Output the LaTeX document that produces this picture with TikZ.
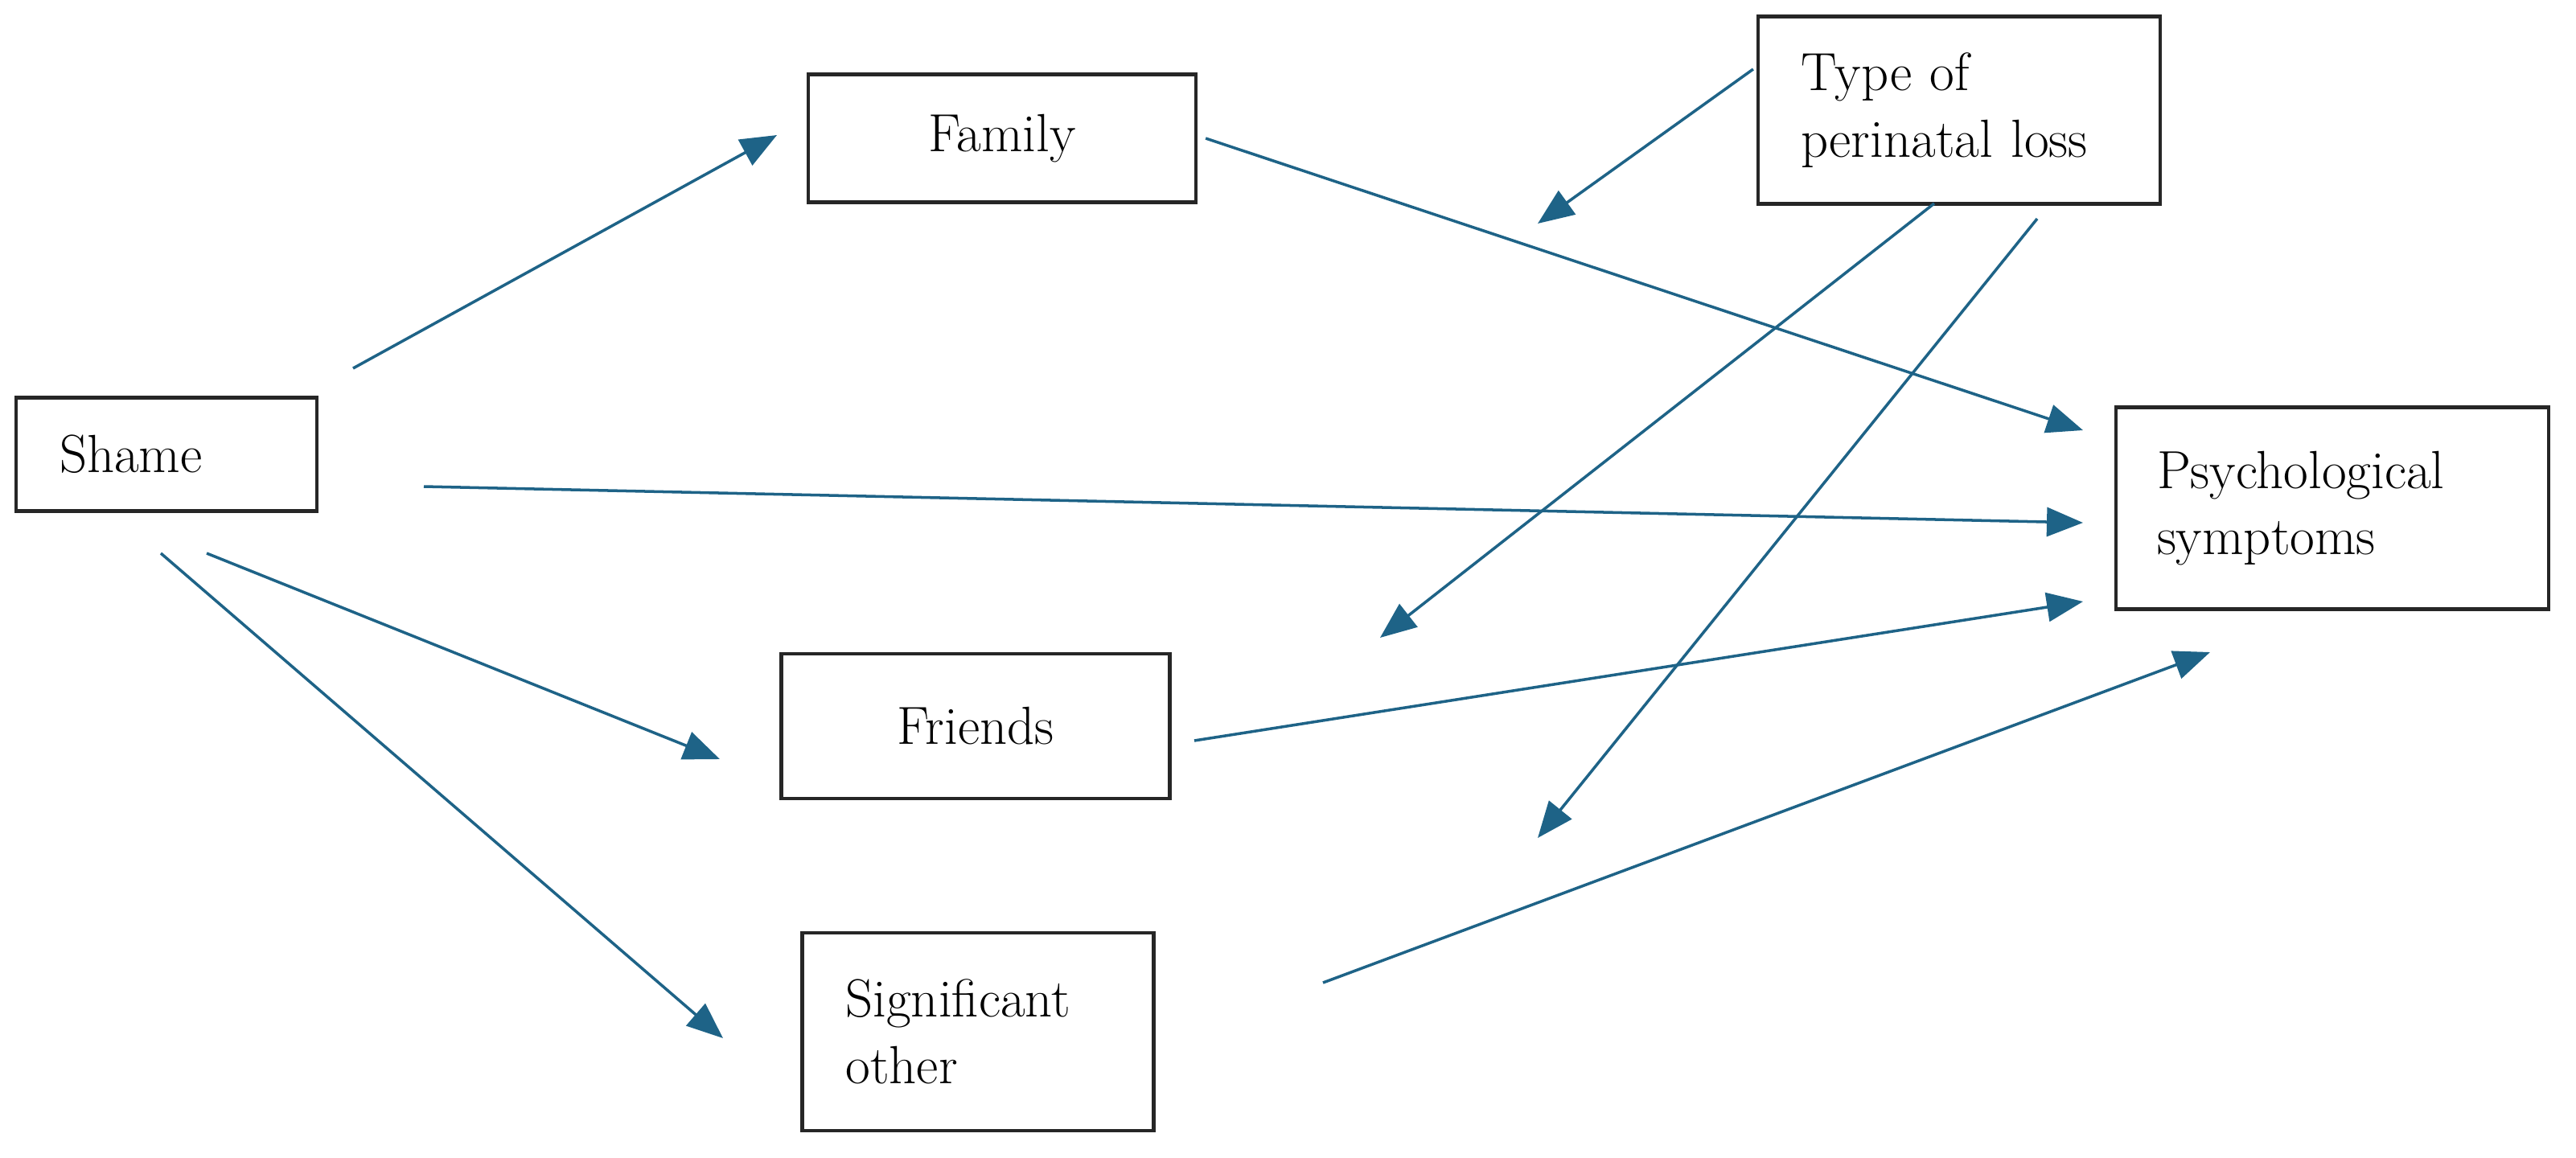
\documentclass[tikz,border=0pt]{standalone}
\usepackage{tikz}
\usetikzlibrary{arrows.meta, positioning}
\definecolor{linkblue}{RGB}{30,99,135}

\begin{document}
\begin{tikzpicture}[
  every node/.style={font=\fontsize{19}{23.5}\selectfont},
  varbox/.style={draw=black!85, line width=1.2pt, inner ysep=0pt},
  leftbox/.style={varbox, align=left, inner xsep=0.54cm},
  midbox/.style={varbox, align=center},
  link/.style={-{Triangle[length=4.5mm, width=3.6mm]}, line width=1pt, linkblue}
]
  \useasboundingbox (0,0) rectangle (32.03,-14.40);

  \node[leftbox, minimum width=3.74cm, minimum height=1.41cm, text width=2.66cm] (shame) at (2.07,-5.65) {Shame};
  \node[midbox, minimum width=4.82cm, minimum height=1.59cm] (family) at (12.46,-1.72) {Family};
  \node[midbox, minimum width=4.83cm, minimum height=1.80cm] (friends) at (12.13,-9.03) {Friends};
  \node[leftbox, minimum width=4.37cm, minimum height=2.46cm, text width=3.29cm] (other) at (12.16,-12.83) {Significant\\other};
  \node[leftbox, minimum width=5.00cm, minimum height=2.33cm, text width=3.94cm, inner xsep=0.53cm] (loss) at (24.36,-1.37) {Type of\\perinatal loss};
  \node[leftbox, minimum width=5.38cm, minimum height=2.51cm, text width=4.36cm, inner xsep=0.51cm] (psych) at (29.00,-6.32) {Psychological\\symptoms};

  % free ends of the arrows
  \coordinate (sh1) at (4.39,-4.58);
  \coordinate (sh2) at (5.27,-6.05);
  \coordinate (sh3) at (2.57,-6.88);
  \coordinate (sh4) at (2.00,-6.88);
  \coordinate (fa1) at (9.66,-1.68);
  \coordinate (fr1) at (8.95,-9.44);
  \coordinate (ot1) at (8.99,-12.91);
  \coordinate (ps1) at (25.90,-5.35);
  \coordinate (ps2) at (25.90,-6.50);
  \coordinate (ps3) at (25.90,-7.48);
  \coordinate (ps4) at (27.48,-8.11);
  \coordinate (fr2) at (14.85,-9.21);
  \coordinate (ot2) at (16.45,-12.22);
  \coordinate (lo1) at (24.05,-2.53);
  \coordinate (lo2) at (25.33,-2.72);
  \coordinate (mo1) at (19.12,-2.78);
  \coordinate (mo2) at (17.16,-7.93);
  \coordinate (mo3) at (19.12,-10.42);

  \draw[link] (sh1) -- (fa1);
  \draw[link] (sh2) -- (ps2);
  \draw[link] (sh3) -- (fr1);
  \draw[link] (sh4) -- (ot1);
  \draw[link] (family.east) ++(0.1,0) -- (ps1);
  \draw[link] (fr2) -- (ps3);
  \draw[link] (ot2) -- (ps4);
  \draw[link] (loss.west) ++(-0.04,0.51) -- (mo1);
  \draw[link] (lo1) -- (mo2);
  \draw[link] (lo2) -- (mo3);
\end{tikzpicture}
\end{document}
